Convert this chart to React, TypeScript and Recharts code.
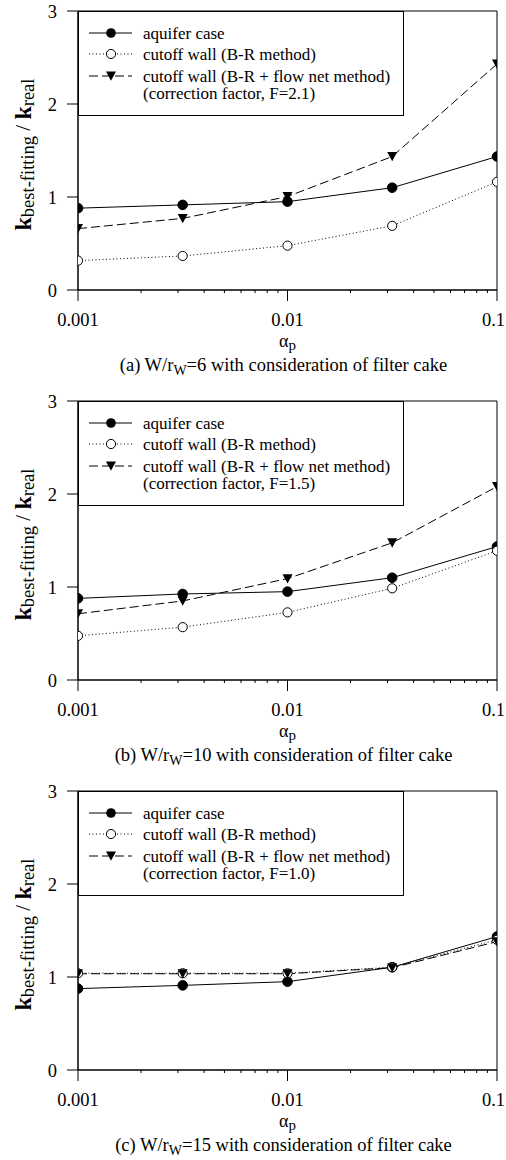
import React from "react";
import { LineChart, Line, XAxis, YAxis, ReferenceArea } from "recharts";

// x positions (alpha_p) shared by all three panels
const alphaP = [0.001, 0.00316, 0.01, 0.0316, 0.1];

// (a) W/rW = 6
const aquiferA = [0.88, 0.915, 0.95, 1.1, 1.435];
const brA = [0.316, 0.366, 0.477, 0.69, 1.163];
const flowNetA = [0.66, 0.77, 1.005, 1.435, 2.43];

// (b) W/rW = 10
const aquiferB = [0.878, 0.925, 0.95, 1.1, 1.435];
const brB = [0.475, 0.568, 0.727, 0.986, 1.39];
const flowNetB = [0.712, 0.85, 1.09, 1.475, 2.08];

// (c) W/rW = 15
const aquiferC = [0.875, 0.91, 0.95, 1.105, 1.435];
const brC = [1.04, 1.04, 1.04, 1.105, 1.4];
const flowNetC = [1.035, 1.035, 1.035, 1.1, 1.38];

const majorTicks = [0.001, 0.01, 0.1];
const minorTicks = [
  0.002, 0.003, 0.004, 0.005, 0.006, 0.007, 0.008, 0.009,
  0.02, 0.03, 0.04, 0.05, 0.06, 0.07, 0.08, 0.09,
];
const yTicks = [0, 1, 2, 3];

const seriesNames = [
  "aquifer case",
  "cutoff wall (B-R method)",
  "cutoff wall (B-R + flow net method)",
];

const panels = [
  { tag: "(a)", ratio: "6", F: "2.1", aquifer: aquiferA, br: brA, flow: flowNetA },
  { tag: "(b)", ratio: "10", F: "1.5", aquifer: aquiferB, br: brB, flow: flowNetB },
  { tag: "(c)", ratio: "15", F: "1.0", aquifer: aquiferC, br: brC, flow: flowNetC },
];

const FONT = '"Liberation Serif", "Times New Roman", serif';
const W = 506;
const H = 390;
const MARGIN = { top: 11, right: 9, left: 0, bottom: 70 };
const Y_W = 78;
const X_H = 30;

const DOTTED = "1 2.5";
const DASHED = "9 4";

function filledDot(p: any) {
  if (p.cx == null || p.cy == null) return <g key={`f${p.index}`} />;
  return <circle key={`f${p.index}`} cx={p.cx} cy={p.cy} r={4.8} fill="#000" stroke="#000" />;
}
function openDot(p: any) {
  if (p.cx == null || p.cy == null) return <g key={`o${p.index}`} />;
  return <circle key={`o${p.index}`} cx={p.cx} cy={p.cy} r={4.6} fill="#fff" stroke="#000" strokeWidth={1} />;
}
function triDot(p: any) {
  if (p.cx == null || p.cy == null) return <g key={`t${p.index}`} />;
  const { cx, cy } = p;
  return (
    <polygon
      key={`t${p.index}`}
      points={`${cx - 5},${cy - 4.5} ${cx + 5},${cy - 4.5} ${cx},${cy + 4.8}`}
      fill="#000"
    />
  );
}

function XTick(props: any) {
  const { x, y, payload } = props;
  const major = majorTicks.includes(payload.value);
  // last label sits against the right edge, as in the original figure
  const atEdge = x > W - 20;
  return (
    <g>
      <line x1={x} x2={x} y1={y} y2={y + (major ? 11 : 3)} stroke="#000" />
      {major && (
        <text
          x={atEdge ? W - 1 : x}
          y={y + 36}
          textAnchor={atEdge ? "end" : "middle"}
          fontSize={18.5}
          fontFamily={FONT}
          fill="#000"
        >
          {String(payload.value)}
        </text>
      )}
    </g>
  );
}

function YLabel(props: any) {
  const vb = props.viewBox || { x: 0, y: MARGIN.top, width: Y_W, height: H - MARGIN.top - MARGIN.bottom - X_H };
  const cx = 23;
  const cy = vb.y + vb.height / 2 + 4;
  return (
    <text
      x={cx}
      y={cy}
      transform={`rotate(-90, ${cx}, ${cy})`}
      textAnchor="middle"
      fontFamily={FONT}
      fill="#000"
      dominantBaseline="central"
    >
      <tspan fontWeight="bold" fontSize={24}>k</tspan>
      <tspan fontSize={18.5} dy={5}>best-fitting</tspan>
      <tspan fontSize={21} dy={-5}> / </tspan>
      <tspan fontWeight="bold" fontSize={24}>k</tspan>
      <tspan fontSize={18.5} dy={5}>real</tspan>
    </text>
  );
}

function makeXLabel(tag: string, ratio: string) {
  return function XLabel(props: any) {
    const vb = props.viewBox || { x: Y_W, y: H - MARGIN.bottom - X_H, width: W - Y_W - MARGIN.right };
    const cx = vb.x + vb.width / 2;
    const base = vb.y;
    return (
      <g fontFamily={FONT} fill="#000">
        <text x={cx} y={base + 57} textAnchor="middle">
          <tspan fontSize={18}>α</tspan>
          <tspan fontSize={15} dy={3}>p</tspan>
        </text>
        <text x={cx - 4} y={base + 81} textAnchor="middle" fontSize={18.5}>
          <tspan>{`${tag} W/r`}</tspan>
          <tspan fontSize={14} dy={4}>W</tspan>
          <tspan dy={-4}>{`=${ratio} with consideration of filter cake`}</tspan>
        </text>
      </g>
    );
  };
}

function LegendBox({ F }: { F: string }) {
  const rows = [
    { y: 22, dash: undefined as string | undefined, dot: "filled" },
    { y: 43, dash: DOTTED, dot: "open" },
    { y: 65, dash: DASHED, dot: "tri" },
  ];
  return (
    <svg
      width={327}
      height={106}
      style={{ position: "absolute", left: Y_W - 0.5, top: MARGIN.top - 0.5 }}
    >
      <rect x={0.5} y={0.5} width={325} height={104} fill="#fff" stroke="#000" />
      {rows.map((r, i) => (
        <g key={i}>
          <line x1={11} x2={54} y1={r.y} y2={r.y} stroke="#000" strokeDasharray={r.dash} />
          {r.dot === "filled" && <circle cx={33} cy={r.y} r={4.8} fill="#000" />}
          {r.dot === "open" && <circle cx={33} cy={r.y} r={4.6} fill="#fff" stroke="#000" />}
          {r.dot === "tri" && (
            <polygon points={`28,${r.y - 4.5} 38,${r.y - 4.5} 33,${r.y + 4.8}`} fill="#000" />
          )}
          <text x={65} y={r.y + 5.5} fontSize={17} fontFamily={FONT} fill="#000">
            {seriesNames[i]}
          </text>
        </g>
      ))}
      <text x={65} y={88} fontSize={17} fontFamily={FONT} fill="#000">
        {`(correction factor, F=${F})`}
      </text>
    </svg>
  );
}

function Panel({ p }: { p: (typeof panels)[number] }) {
  const data = alphaP.map((a, i) => ({
    alpha: a,
    aquifer: p.aquifer[i],
    br: p.br[i],
    flow: p.flow[i],
  }));
  return (
    <div style={{ position: "relative", width: W, height: H }}>
      <LineChart width={W} height={H} data={data} margin={MARGIN}>
        <ReferenceArea x1={0.001} x2={0.1} y1={0} y2={3} fill="none" stroke="#000" strokeWidth={1} />
        <XAxis
          dataKey="alpha"
          type="number"
          scale="log"
          domain={[0.001, 0.1]}
          allowDataOverflow
          ticks={[...majorTicks, ...minorTicks]}
          interval={0}
          tickSize={0}
          tickMargin={0}
          tickLine={false}
          tick={<XTick />}
          height={X_H}
          axisLine={{ stroke: "#000" }}
          label={{ content: makeXLabel(p.tag, p.ratio) }}
        />
        <YAxis
          type="number"
          domain={[0, 3]}
          ticks={yTicks}
          width={Y_W}
          tickSize={11}
          tickMargin={10}
          tickLine={{ stroke: "#000" }}
          axisLine={{ stroke: "#000" }}
          tick={{ fontSize: 18.5, fill: "#000", fontFamily: FONT }}
          label={{ content: YLabel }}
        />
        <Line
          dataKey="aquifer"
          name={seriesNames[0]}
          stroke="#000"
          strokeWidth={1}
          dot={filledDot}
          activeDot={false}
          isAnimationActive={false}
        />
        <Line
          dataKey="br"
          name={seriesNames[1]}
          stroke="#000"
          strokeWidth={1}
          strokeDasharray={DOTTED}
          dot={openDot}
          activeDot={false}
          isAnimationActive={false}
        />
        <Line
          dataKey="flow"
          name={seriesNames[2]}
          stroke="#000"
          strokeWidth={1}
          strokeDasharray={DASHED}
          dot={triDot}
          activeDot={false}
          isAnimationActive={false}
        />
      </LineChart>
      <LegendBox F={p.F} />
    </div>
  );
}

export default function App() {
  return (
    <div
      style={{
        position: "absolute",
        left: 0,
        top: 0,
        width: W,
        height: 1160,
        background: "#fff",
        fontFamily: FONT,
      }}
    >
      {panels.map((p) => (
        <Panel key={p.tag} p={p} />
      ))}
    </div>
  );
}
